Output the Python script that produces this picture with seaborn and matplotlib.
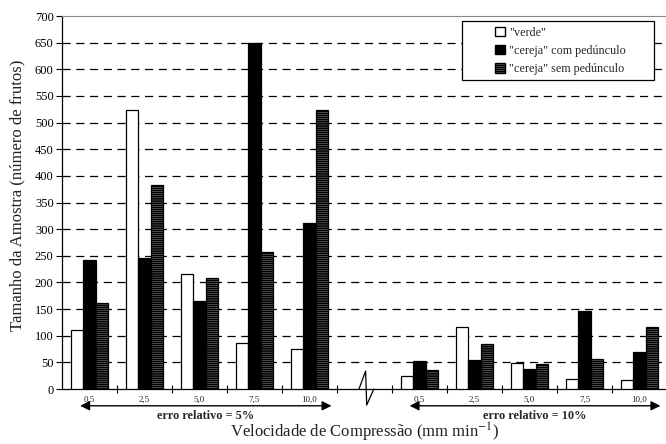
import matplotlib
matplotlib.use("Agg")
import matplotlib.pyplot as plt
import seaborn as sns
import pandas as pd
from matplotlib.patches import Patch, Rectangle

# ---- data ----
speeds = ["0,5", "2,5", "5,0", "7,5", "10,0"]
series = ['"verde"', '"cereja" com pedúnculo', '"cereja" sem pedúnculo']
verde_5 = [110, 523, 216, 86, 76]
com_5 = [242, 245, 166, 650, 312]
sem_5 = [161, 383, 208, 258, 523]
verde_10 = [24, 116, 48, 19, 17]
com_10 = [53, 54, 37, 146, 70]
sem_10 = [36, 84, 46, 57, 117]
group_labels = ["erro relativo = 5%", "erro relativo = 10%"]

slots5 = ["5%|" + s for s in speeds]
slots10 = ["10%|" + s for s in speeds]
order = slots5 + ["break"] + slots10

rows = []
for slots, vals in ((slots5, (verde_5, com_5, sem_5)), (slots10, (verde_10, com_10, sem_10))):
    for name, v in zip(series, vals):
        for sl, val in zip(slots, v):
            rows.append({"slot": sl, "serie": name, "n": val})
df = pd.DataFrame(rows)

sns.set_theme(style="white")
plt.rcParams["font.family"] = ["Liberation Serif", "DejaVu Serif"]
plt.rcParams["mathtext.fontset"] = "stix"
plt.rcParams["hatch.linewidth"] = 1.3
plt.rcParams["hatch.color"] = "black"

fig = plt.figure(figsize=(6.66, 4.44), dpi=100)
ax = fig.add_axes([62 / 666, 1 - 389 / 444, 605 / 666, 373 / 444])

sns.barplot(data=df, x="slot", y="n", hue="serie", order=order, hue_order=series,
            width=0.68, gap=0, ax=ax, legend=False, saturation=1,
            edgecolor="black", linewidth=0.9)

fills = ["white", "black", "white"]
HATCH = "--------"
for i, (cont, fc) in enumerate(zip(ax.containers, fills)):
    for bar in cont:
        bar.set_facecolor(fc)
        bar.set_edgecolor("black")
        if i == 2:
            bar.set_hatch(HATCH)
        bar.set_zorder(3)

ax.set_xlim(-0.5, 10.5)
ax.set_ylim(0, 700)
ax.set_yticks(range(0, 701, 50))
ax.tick_params(axis="y", direction="out", length=4, width=0.8, colors="black",
               labelsize=9, pad=2, left=True)
for y in range(50, 700, 50):
    ax.axhline(y, color="black", linestyle=(0, (6.5, 4.5)), linewidth=0.9, zorder=1)

# x ticks: labels at slot centres, tick marks at boundaries
centres = [0, 1, 2, 3, 4, 6, 7, 8, 9, 10]
ax.set_xticks(centres)
ax.set_xticklabels(speeds + speeds, fontsize=6.5)
ax.tick_params(axis="x", length=0, pad=5)
ax.set_xticks([k + 0.5 for k in range(10)], minor=True)
ax.tick_params(axis="x", which="minor", direction="inout", length=6, width=0.8,
               color="black", bottom=True)

for s in ["left", "bottom"]:
    ax.spines[s].set_color("black")
    ax.spines[s].set_linewidth(0.9)
ax.spines["top"].set_color("#888888")
ax.spines["top"].set_linewidth(0.8)
ax.spines["right"].set_visible(False)

ax.set_xlabel("")
fig.text(365 / 666, 1 - 437.5 / 444, "Velocidade de Compressão (mm min$^{-1}$)", fontsize=12,
         ha="center", va="baseline", color="#222222")
ax.set_ylabel("Tamanho da Amostra (número de frutos)", fontsize=12, color="#222222")
ax.yaxis.set_label_coords(-(62 - 25) / 605, (389 - 195) / 373)

# break mark
trans = ax.get_xaxis_transform()
ax.plot([4.9, 5.02, 5.04, 5.17], [0.0, 0.048, -0.043, 0.0], color="black",
        linewidth=0.9, transform=trans, clip_on=False, zorder=5)

# group arrows and labels
for (x0, x1), lab in zip(((-0.17, 4.4), (5.82, 10.38)), group_labels):
    ax.annotate("", xy=(x0, -0.045), xytext=(x1, -0.045), xycoords=trans, textcoords=trans,
                arrowprops=dict(arrowstyle="<|-|>", color="black", lw=1.0,
                                mutation_scale=14, shrinkA=0, shrinkB=0))
    ax.text((x0 + x1) / 2, -(419 - 389) / 373, lab, transform=trans, ha="center",
            va="baseline", fontsize=8.8, fontweight="bold")

# legend: wide frame drawn as a rectangle, entries placed inside
lx0, lx1, ly0, ly1 = 462, 654, 21, 80
to_ax = lambda px, py: ((px - 62) / 605, (389 - py) / 373)
bx, by = to_ax(lx0, ly1)
bw, bh = (lx1 - lx0) / 605, (ly1 - ly0) / 373
ax.add_patch(Rectangle((bx, by), bw, bh, transform=ax.transAxes, facecolor="white",
                       edgecolor="black", linewidth=0.9, zorder=8, clip_on=False))
handles = [Patch(facecolor=fc, edgecolor="black", hatch=(HATCH if i == 2 else None))
           for i, fc in enumerate(fills)]
leg = ax.legend(handles, series, loc="upper left", bbox_to_anchor=to_ax(495, ly0 + 6),
                fontsize=8.7, frameon=False, handlelength=0.8, handleheight=0.8,
                handletextpad=0.35, borderpad=0, labelspacing=0.5, borderaxespad=0)
leg.set_zorder(10)

fig.savefig("out.png", dpi=100)
